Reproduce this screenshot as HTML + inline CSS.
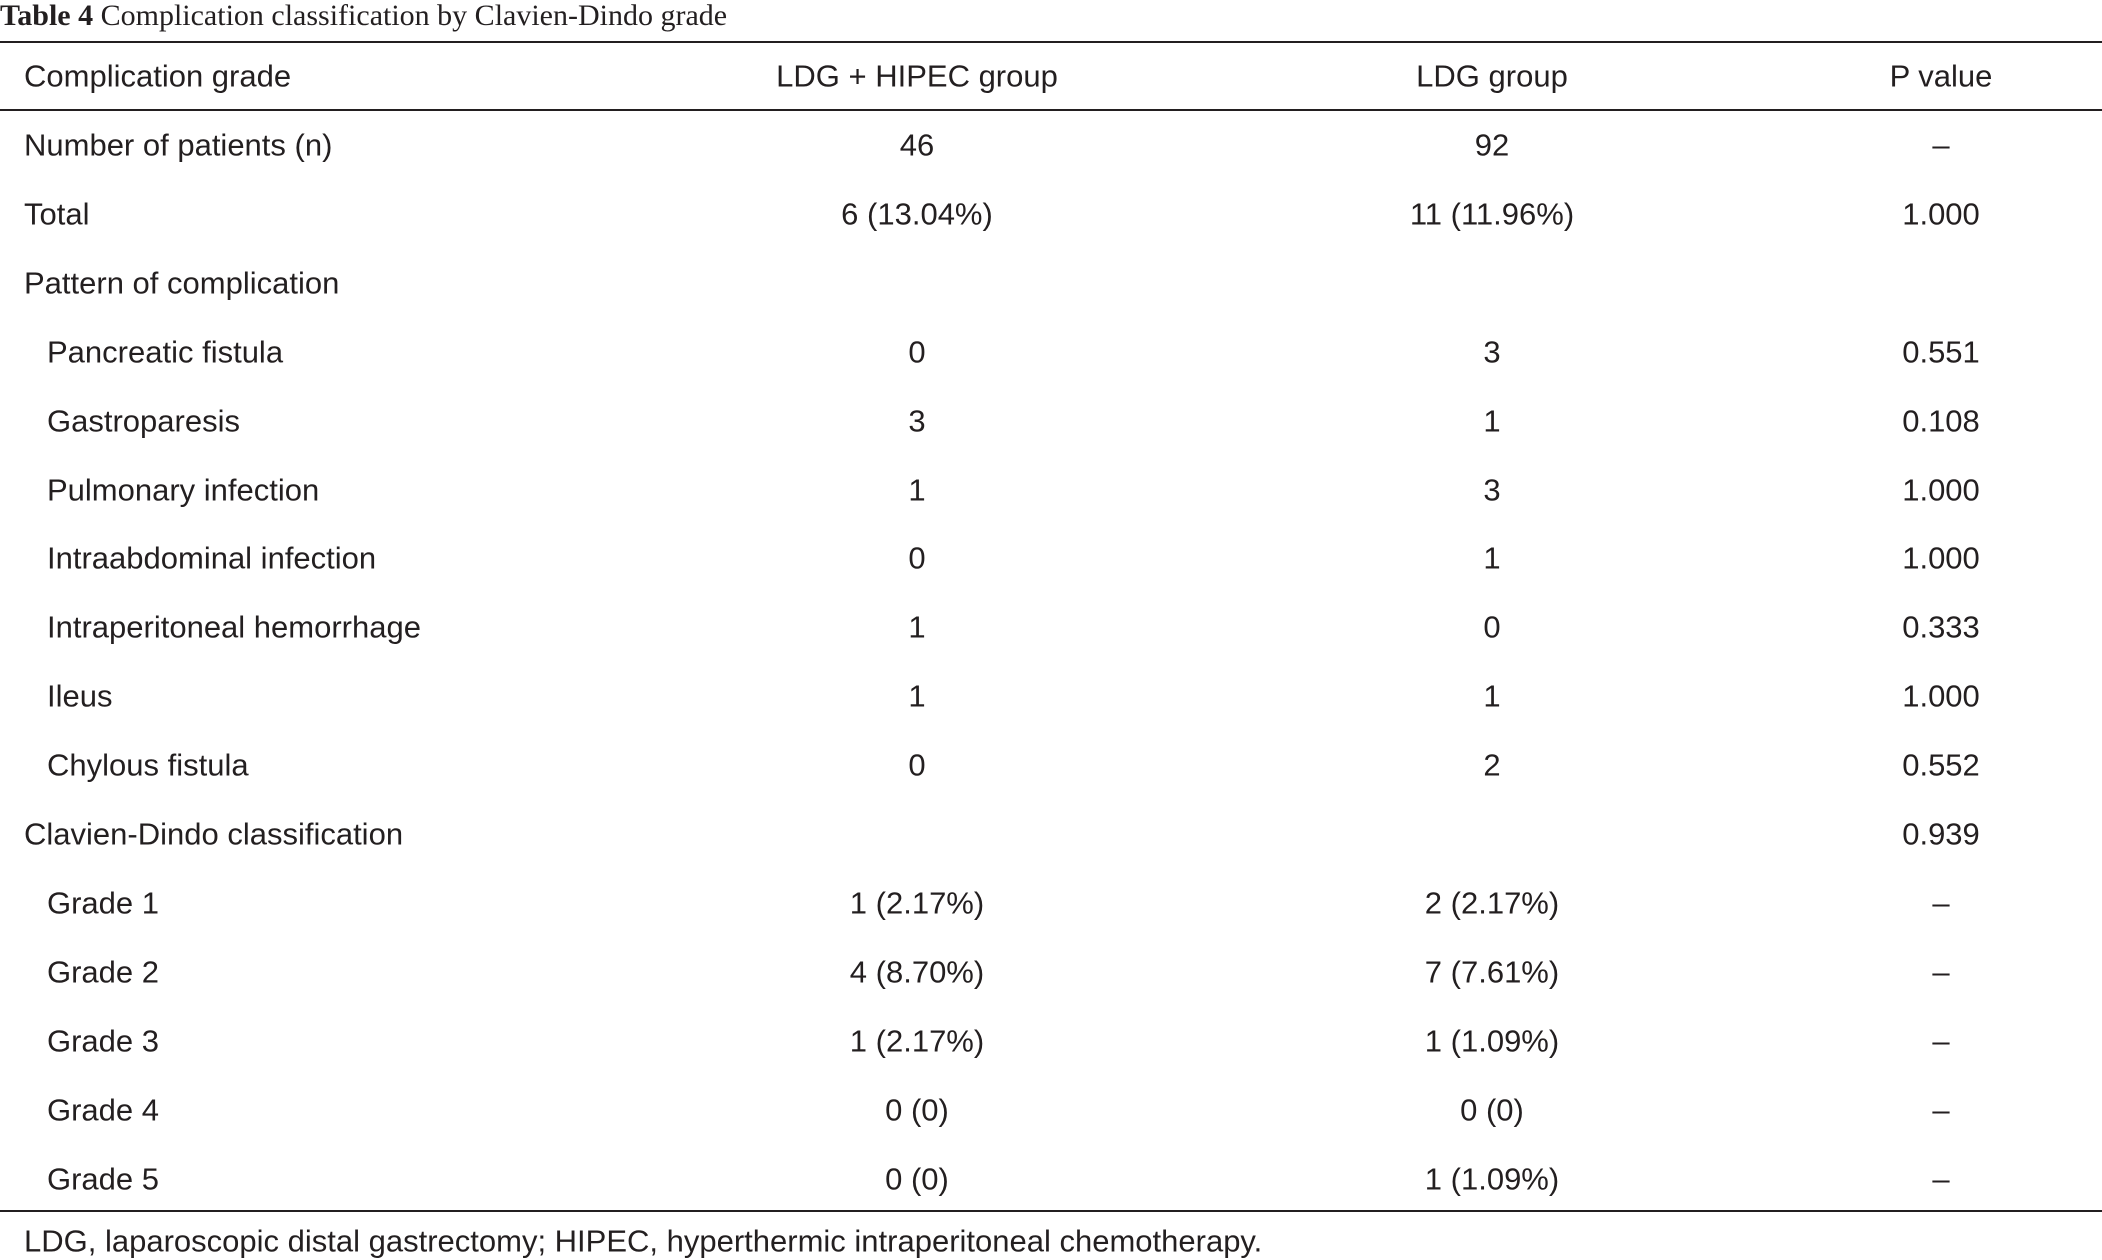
<!DOCTYPE html>
<html><head><meta charset="utf-8"><style>
body{margin:0;width:2102px;height:1260px;background:#fff;overflow:hidden;position:relative;font-family:"Liberation Sans",Arial,sans-serif;color:#231f20}
.t{position:absolute;font-size:31px;line-height:1;white-space:nowrap;transform:translateY(-50%)}
.c{transform:translate(-50%,-50%)}
.line{position:absolute;left:0;width:2102px;height:2px;background:#231f20}
#title{position:absolute;left:0;top:0;font-family:"Liberation Serif",serif;font-size:30px;line-height:32px}
</style></head><body>
<div id="title"><b>Table 4</b> Complication classification by Clavien-Dindo grade</div>
<div class="line" style="top:41px"></div>
<div class="line" style="top:109px"></div>
<div class="line" style="top:1210px"></div>
<div id="tbl"></div>
<div class="t" style="left:24px;top:1241px">LDG, laparoscopic distal gastrectomy; HIPEC, hyperthermic intraperitoneal chemotherapy.</div>
<script>
const header=["Complication grade","LDG + HIPEC group","LDG group","P value"];
const rows=[
["Number of patients (n)","46","92","–",0],
["Total","6 (13.04%)","11 (11.96%)","1.000",0],
["Pattern of complication","","","",0],
["Pancreatic fistula","0","3","0.551",1],
["Gastroparesis","3","1","0.108",1],
["Pulmonary infection","1","3","1.000",1],
["Intraabdominal infection","0","1","1.000",1],
["Intraperitoneal hemorrhage","1","0","0.333",1],
["Ileus","1","1","1.000",1],
["Chylous fistula","0","2","0.552",1],
["Clavien-Dindo classification","","","0.939",0],
["Grade 1","1 (2.17%)","2 (2.17%)","–",1],
["Grade 2","4 (8.70%)","7 (7.61%)","–",1],
["Grade 3","1 (2.17%)","1 (1.09%)","–",1],
["Grade 4","0 (0)","0 (0)","–",1],
["Grade 5","0 (0)","1 (1.09%)","–",1]];
const colX=[917,1492,1941];
const tbl=document.getElementById('tbl');
function cell(txt,x,y,center,name){
 const d=document.createElement('div');
 d.className='t'+(center?' c':'');
 d.style.left=x+'px';d.style.top=y+'px';d.textContent=txt;
 
 
 tbl.appendChild(d);
}
cell(header[0],24,76,false,'header-label');
for(let i=1;i<4;i++)cell(header[i],colX[i-1],76,true,'header-col-'+i);
rows.forEach((r,i)=>{
 const y=145+i*68.9;
 cell(r[0],r[4]?47:24,y,false,'row-label');
 for(let j=1;j<4;j++) if(r[j]) cell(r[j],colX[j-1],y,true,'row-value');
});
</script>
</body></html>
